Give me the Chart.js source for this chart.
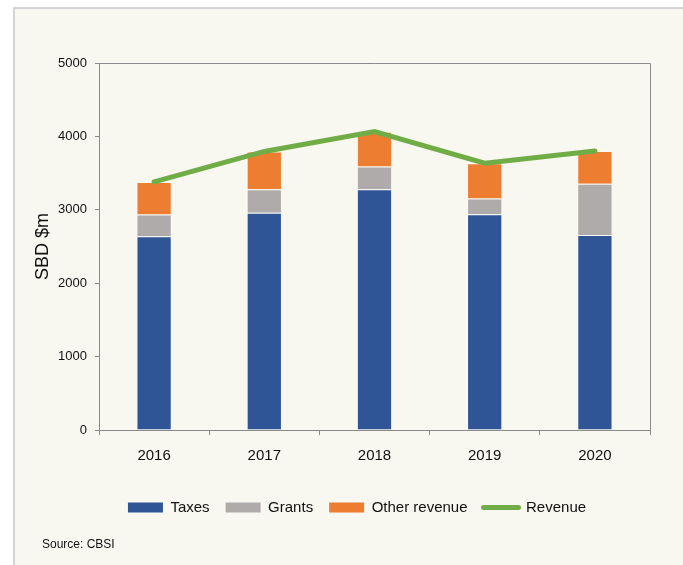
<!DOCTYPE html>
<html>
<head>
<meta charset="utf-8">
<title>Revenue</title>
<script src="https://cdn.jsdelivr.net/npm/chart.js@4.4.0/dist/chart.umd.min.js"></script>
<style>
  html, body { margin: 0; padding: 0; background: #fff; }
  #wrap { position: relative; width: 683px; height: 565px; overflow: hidden; }
  #panel { position: absolute; left: 13px; top: 7px; width: 700px; height: 600px;
           background: #f8f7f0; border-left: 2px solid #d4d4d4; border-top: 2px solid #d4d4d4; }
  #revenueChart { position: absolute; left: 0; top: 0; }
</style>
</head>
<body>
<div id="wrap">
  <div id="panel"></div>
  <canvas id="revenueChart" width="683" height="565"></canvas>
</div>
<script>
// values (SBD $m)
const years = ['2016', '2017', '2018', '2019', '2020'];
const taxes = [2640, 2960, 3280, 2940, 2655];
const grants = [295, 320, 310, 215, 700];
const otherRevenue = [445, 515, 475, 480, 445];
const totalRevenue = [3380, 3795, 4065, 3635, 3800];
const yTicks = [0, 1000, 2000, 3000, 4000, 5000];

Chart.defaults.font.family = "'Liberation Sans', Arial, sans-serif";
Chart.defaults.color = '#111';

const axisGrey = '#8a8a8a';
const LEGEND_SHIFT = 16;

// top + right edges of the plot box
const frameLines = {
    id: 'frameLines',
    afterDraw(chart) {
        const a = chart.chartArea, ctx = chart.ctx;
        ctx.save();
        ctx.strokeStyle = axisGrey; ctx.lineWidth = 1;
        ctx.beginPath();
        ctx.moveTo(a.left, Math.round(a.top) + 0.5);
        ctx.lineTo(Math.round(a.right) + 0.5, Math.round(a.top) + 0.5);
        ctx.lineTo(Math.round(a.right) + 0.5, a.bottom);
        ctx.stroke();
        ctx.restore();
    }
};

// nudge the legend row so it sits where the original one does
const legendNudge = {
    id: 'legendNudge',
    afterLayout(chart) {
        if (!chart.legend) return;
        chart.legend.left += LEGEND_SHIFT;
        chart.legend.right += LEGEND_SHIFT;
    }
};

const sourceNote = {
    id: 'sourceNote',
    afterDraw(chart) {
        const ctx = chart.ctx;
        ctx.save();
        ctx.font = "12px 'Liberation Sans', Arial, sans-serif";
        ctx.fillStyle = '#111';
        ctx.textBaseline = 'middle';
        ctx.fillText('Source: CBSI', 42, 545);
        ctx.restore();
    }
};

const ctx = document.getElementById('revenueChart').getContext('2d');
new Chart(ctx, {
    type: 'bar',
    data: {
        labels: years,
        datasets: [
            { label: 'Taxes', data: taxes, backgroundColor: '#2f5597', borderColor: 'rgba(255,255,255,0.35)', borderWidth: 1, order: 1, stack: 'rev' },
            { label: 'Grants', data: grants, backgroundColor: '#afabab', borderColor: 'rgba(255,255,255,0.35)', borderWidth: 1, order: 1, stack: 'rev' },
            { label: 'Other revenue', data: otherRevenue, backgroundColor: '#ed7d31', borderColor: 'rgba(255,255,255,0.35)', borderWidth: 1, order: 1, stack: 'rev' },
            { type: 'line', label: 'Revenue', data: totalRevenue, borderColor: '#70ad47', backgroundColor: '#70ad47',
              borderWidth: 5, borderCapStyle: 'round', pointRadius: 0, tension: 0, order: 0, stack: 'line' }
        ]
    },
    options: {
        responsive: false,
        animation: false,
        categoryPercentage: 1,
        barPercentage: 0.32,
        layout: { padding: { left: 32, right: 33, top: 63, bottom: 40 } },
        plugins: {
            tooltip: { enabled: false },
            legend: {
                position: 'bottom',
                labels: {
                    usePointStyle: true,
                    pointStyleWidth: 35,
                    boxHeight: 10,
                    padding: 16,
                    font: { size: 15 },
                    color: '#111',
                    sort: (a, b) => a.datasetIndex - b.datasetIndex,
                    generateLabels(chart) {
                        const items = Chart.defaults.plugins.legend.labels.generateLabels(chart);
                        return items.map(it => {
                            if (it.datasetIndex === 3) {
                                it.pointStyle = 'line'; it.lineWidth = 5; it.strokeStyle = '#70ad47'; it.lineCap = 'round';
                            } else {
                                it.pointStyle = 'rect'; it.lineWidth = 0;
                            }
                            return it;
                        });
                    }
                }
            }
        },
        scales: {
            x: {
                stacked: true,
                offset: true,
                grid: { display: true, drawOnChartArea: false, drawTicks: true, tickLength: 5, color: axisGrey, offset: true },
                border: { color: axisGrey, width: 1 },
                ticks: { font: { size: 15 }, padding: 12, color: '#111' },
                afterFit(scale) { scale.height = 54; }
            },
            y: {
                stacked: true,
                min: 0,
                max: 5000,
                afterBuildTicks(scale) { scale.ticks = yTicks.map(v => ({ value: v })); },
                ticks: { font: { size: 13 }, padding: 8, color: '#111', callback: v => String(v) },
                grid: { display: true, drawOnChartArea: false, drawTicks: true, tickLength: 4, color: axisGrey },
                border: { color: axisGrey, width: 1 },
                title: { display: true, text: 'SBD $m', font: { size: 18 }, color: '#111', padding: 0 },
                afterFit(scale) { scale.width = 67; }
            }
        }
    },
    plugins: [frameLines, legendNudge, sourceNote]
});
</script>
</body>
</html>
